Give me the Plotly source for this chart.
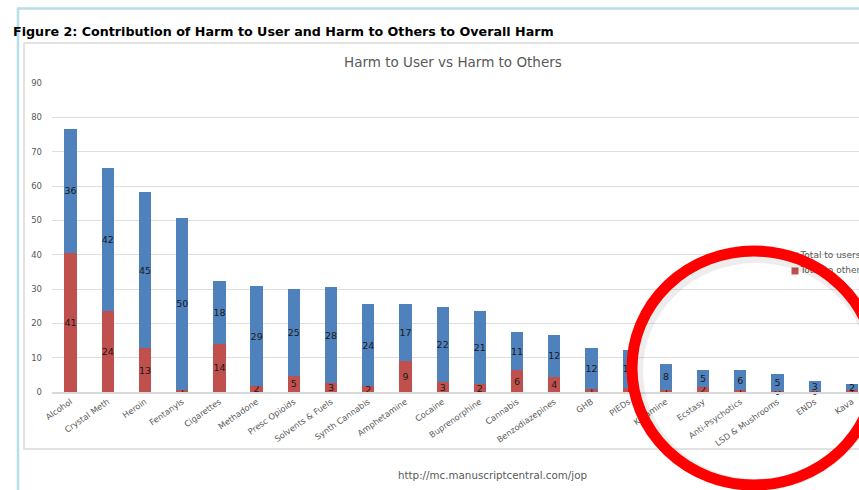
import plotly.graph_objects as go

categories = ["Alcohol", "Crystal Meth", "Heroin", "Fentanyls", "Cigarettes", "Methadone",
              "Presc Opioids", "Solvents & Fuels", "Synth Cannabis", "Amphetamine", "Cocaine",
              "Buprenorphine", "Cannabis", "Benzodiazepines", "GHB", "PIEDs", "Ketamine",
              "Ecstasy", "Anti-Psychotics", "LSD & Mushrooms", "ENDs", "Kava"]
harm_to_others = [40.6, 23.6, 12.8, 0.6, 14.1, 1.8, 4.7, 2.6, 1.7, 9.0, 2.8,
                  2.2, 6.3, 4.3, 1.0, 1.2, 0.6, 1.6, 0.6, 0.2, 0.2, 0.6]
harm_to_users = [36.1, 41.7, 45.4, 50.1, 18.1, 29.0, 25.3, 28.0, 23.8, 16.6, 22.0,
                 21.4, 11.1, 12.4, 11.7, 11.0, 7.6, 4.8, 5.7, 5.0, 2.9, 1.7]
y_ticks = [0, 10, 20, 30, 40, 50, 60, 70, 80, 90]
legend_names = ["Total to users", "Total to others"]

BLUE = "#4f81bd"
RED = "#c0504d"
FONT = "DejaVu Sans"
GRAY = "#595959"

W, H = 859, 490
L, R, T, B = 52, 0, 83, 98
PW, PH = W - L - R, H - T - B


def px(x):
    return (x - L) / PW


def py(y):
    return (H - B - y) / PH


label_font = dict(family=FONT, size=9.5, color="#1a1a1a")

fig = go.Figure()
fig.add_trace(go.Bar(
    x=categories, y=harm_to_others, name=legend_names[1], marker_color=RED,
    width=0.33, texttemplate="%{y:.0f}", textposition="inside", insidetextanchor="middle",
    constraintext="none", textangle=0, cliponaxis=False,
    textfont=label_font, showlegend=False,
))
fig.add_trace(go.Bar(
    x=categories, y=harm_to_users, name=legend_names[0], marker_color=BLUE,
    width=0.33, texttemplate="%{y:.0f}", textposition="inside", insidetextanchor="middle",
    constraintext="none", textangle=0, cliponaxis=False,
    textfont=label_font, showlegend=False,
))
# legend drawn on an overlay pixel axis so the red circle can sit above it
fig.add_trace(go.Scatter(
    x=[795, 795], y=[256, 271], xaxis="x2", yaxis="y2", mode="markers+text",
    marker=dict(symbol="square", size=7, color=[BLUE, RED]),
    text=legend_names, textposition="middle right",
    textfont=dict(family=FONT, size=9, color=GRAY), cliponaxis=False,
    showlegend=False, hoverinfo="skip",
))

fig.update_layout(
    width=W, height=H, margin=dict(l=L, r=R, t=T, b=B),
    paper_bgcolor="white", plot_bgcolor="white", template="none",
    barmode="stack", bargap=0.67,
    xaxis=dict(range=[-0.5, 21.19], tickangle=-35, tickfont=dict(family=FONT, size=8.3, color=GRAY),
               showgrid=False, showline=True, linecolor="#d9d9d9", linewidth=1.5,
               ticks="", automargin=False, zeroline=False),
    yaxis=dict(range=[0, 90], tickvals=y_ticks, tickfont=dict(family=FONT, size=8.5, color=GRAY),
               showgrid=True, gridcolor="#dedede", gridwidth=1.3, zeroline=False,
               showline=False, ticks="", ticklabelstandoff=9, automargin=False),
    xaxis2=dict(overlaying="x", range=[L, W], visible=False, anchor="y2"),
    yaxis2=dict(overlaying="y", range=[H - B, T], visible=False, anchor="x2"),
    showlegend=False,
)

CX, CY, RX, RY = 754, 368, 122, 117
shapes = [
    # page frame (light blue)
    dict(type="line", xref="paper", yref="paper", x0=px(17), x1=px(870), y0=py(8.5), y1=py(8.5),
         line=dict(color="#b8dee6", width=2.5), layer="below"),
    dict(type="line", xref="paper", yref="paper", x0=px(18), x1=px(18), y0=py(8), y1=py(495),
         line=dict(color="#b8dee6", width=2.5), layer="below"),
    # chart box
    dict(type="rect", xref="paper", yref="paper", x0=px(24), x1=px(885), y0=py(449), y1=py(43),
         line=dict(color="#d9d9d9", width=1.5), layer="below"),
    # red circle highlight: soft shadow + ring
    dict(type="circle", xref="paper", yref="paper", x0=px(CX + 2 - RX + 3), x1=px(CX + 2 + RX - 3),
         y0=py(CY + 3 + RY - 3), y1=py(CY + 3 - RY + 3), line=dict(color="rgba(0,0,0,0.07)", width=12),
         layer="above"),
    dict(type="circle", xref="paper", yref="paper", x0=px(CX - RX), x1=px(CX + RX),
         y0=py(CY + RY), y1=py(CY - RY), line=dict(color="#ff0000", width=11), layer="above"),
]
fig.update_layout(shapes=shapes)

annotations = [
    dict(text="<b>Figure 2: Contribution of Harm to User and Harm to Others to Overall Harm</b>",
         xref="paper", yref="paper", x=px(11), y=py(31), xanchor="left", yanchor="middle",
         showarrow=False, font=dict(family=FONT, size=12.7, color="#000000")),
    dict(text="Harm to User vs Harm to Others", xref="paper", yref="paper", x=px(453), y=py(62),
         xanchor="center", yanchor="middle", showarrow=False,
         font=dict(family=FONT, size=13.5, color=GRAY)),
    dict(text="http://mc.manuscriptcentral.com/jop", xref="paper", yref="paper", x=px(492), y=py(475),
         xanchor="center", yanchor="middle", showarrow=False,
         font=dict(family=FONT, size=10.3, color=GRAY)),
]
fig.update_layout(annotations=annotations)

fig.write_html("out.html", config={"displayModeBar": False},
               post_script="document.body.style.margin='0px';")
